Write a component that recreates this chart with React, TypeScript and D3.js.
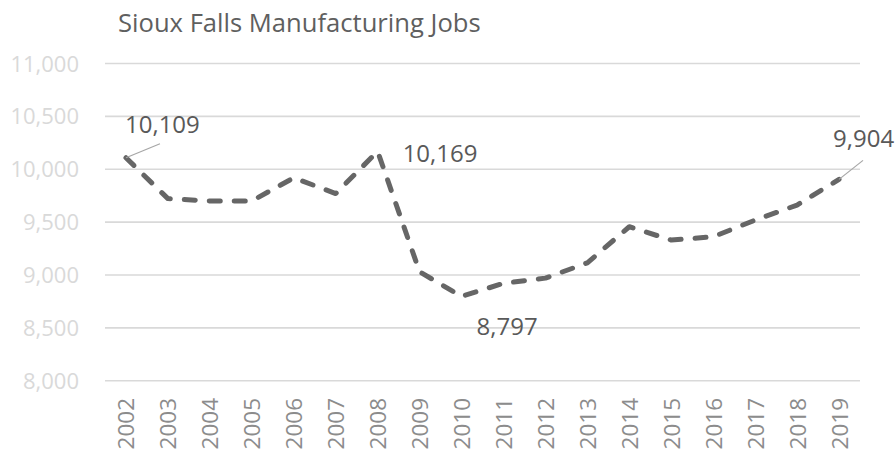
import React from "react";
import * as d3 from "d3";

const years = ["2002","2003","2004","2005","2006","2007","2008","2009","2010","2011","2012","2013","2014","2015","2016","2017","2018","2019"];
const jobs = [10109, 9722, 9700, 9700, 9919, 9770, 10169, 9030, 8797, 8921, 8970, 9115, 9456, 9330, 9361, 9519, 9661, 9904];
const yTicks = [8000, 8500, 9000, 9500, 10000, 10500, 11000];
const labelled = [
  { year: "2002", value: 10109 },
  { year: "2008", value: 10169 },
  { year: "2010", value: 8797 },
  { year: "2019", value: 9904 },
];
const title = "Sioux Falls Manufacturing Jobs";

const W = 896, H = 452;
const FONT = "'Open Sans', 'Noto Sans', sans-serif";

export default function App() {
  const x = d3.scaleBand<string>().domain(years).range([105, 860]);
  const y = d3.scaleLinear().domain([8000, 11000]).range([380.7, 63.5]);
  const cx = (yr: string) => (x(yr) as number) + x.bandwidth() / 2;
  const line = d3.line<number>().x((_, i) => cx(years[i])).y((d) => y(d));
  const fmt = d3.format(",");

  const labelPos: Record<string, { dx: number; dy: number; lx?: number; ly?: number }> = {
    "2002": { dx: -1, dy: -24.5, lx: 34, ly: -14 },
    "2008": { dx: 25, dy: 10.5 },
    "2010": { dx: 15, dy: 38.5 },
    "2019": { dx: -6, dy: -32.5, lx: 24, ly: -19 },
  };

  return (
    <svg width={W} height={H} style={{ position: "absolute", left: 0, top: 0, background: "#fff" }}>
      <text x={118} y={32} fontFamily={FONT} fontSize={25.6} fill="#5f5f5f">{title}</text>
      {yTicks.map((t) => (
        <g key={t}>
          <line x1={105} x2={860} y1={y(t)} y2={y(t)} stroke="#d9d9d9" strokeWidth={1.6} />
          <text x={79} y={y(t) + 8} textAnchor="end" fontFamily={FONT} fontSize={22} fill="#d9d9d9">{fmt(t)}</text>
        </g>
      ))}
      {years.map((yr) => (
        <text key={yr} transform={`translate(${cx(yr) + 8.5},398) rotate(-90)`} textAnchor="end" fontFamily={FONT} fontSize={22.5} fill="#8c8c8c">{yr}</text>
      ))}
      <path d={line(jobs) || ""} fill="none" stroke="#666666" strokeWidth={5} strokeDasharray="11,14" strokeLinecap="round" strokeLinejoin="round" />
      {labelled.map((l) => {
        const p = labelPos[l.year];
        const px = cx(l.year), py = y(l.value);
        return (
          <g key={l.year}>
            {p.lx !== undefined && (
              <line x1={px} y1={py} x2={px + (p.lx as number)} y2={py + (p.ly as number)} stroke="#a6a6a6" strokeWidth={1.2} />
            )}
            <text x={px + p.dx} y={py + p.dy} fontFamily={FONT} fontSize={24} fill="#595959">{fmt(l.value)}</text>
          </g>
        );
      })}
    </svg>
  );
}
